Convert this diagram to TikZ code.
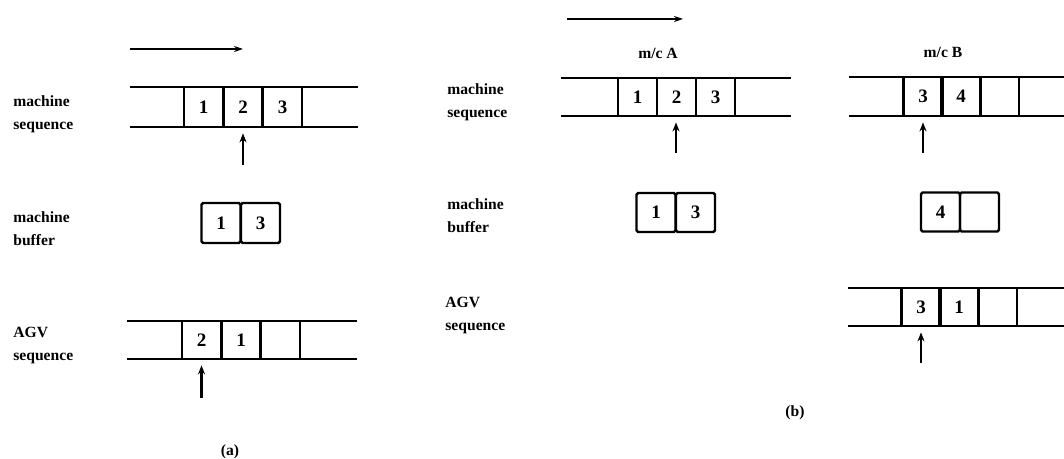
\documentclass[tikz,border=0pt]{standalone}
\usepackage{fontspec}
\setmainfont{Liberation Serif}
\usetikzlibrary{arrows.meta}
\begin{document}
\begin{tikzpicture}[x=0.5pt,y=-0.5pt,
  lbl/.style={font=\fontsize{7.8}{11.5}\selectfont\bfseries, align=left, anchor=west, inner sep=0pt},
  cell/.style={draw, line width=1.4pt, minimum width=19.5pt, minimum height=19.5pt, inner sep=0pt, font=\fontsize{9.5}{10}\selectfont\bfseries},
  bcell/.style={cell, line width=1.2pt, rounded corners=0.8pt},
  band/.style={line width=1pt},
  ptr/.style={line width=1.4pt, -{Stealth[length=4.5pt,width=3.5pt]}, shorten >=2.5pt},
  dirarrow/.style={line width=0.8pt, -{Stealth[length=4.5pt,width=3pt]}},
  captxt/.style={font=\fontsize{7.8}{9}\selectfont\bfseries, inner sep=0pt}
]
\useasboundingbox (0,0) rectangle (1064,459);

% ================= (a) =================
\coordinate (da1) at (130,49); \coordinate (da2) at (243,49);
\draw[dirarrow] (da1) -- (da2);

% machine sequence (a)
\node[lbl] (la1) at (13,114) {machine\\sequence};
\coordinate (am-tl) at (130,87); \coordinate (am-tr) at (358,87);
\coordinate (am-bl) at (130,127); \coordinate (am-br) at (358,127);
\draw[band] (am-tl) -- (am-tr) (am-bl) -- (am-br);
\node[cell, minimum height=20pt] (am1) at (203.5,107) {1};
\node[cell, minimum height=20pt] (am2) at (243,107) {2};
\node[cell, minimum height=20pt] (am3) at (282.5,107) {3};
\coordinate (pam) at (243,165);
\draw[ptr] (pam) -- (pam |- am2.south);

% machine buffer (a)
\node[lbl] (la2) at (13,229) {machine\\buffer};
\node[bcell, minimum height=20pt] (ab1) at (221,223) {1};
\node[bcell, minimum height=20pt] (ab2) at (260.5,223) {3};

% AGV sequence (a)
\node[lbl] (la3) at (13,345) {AGV\\sequence};
\coordinate (aa-tl) at (127,321); \coordinate (aa-tr) at (357,321);
\coordinate (aa-bl) at (127,359); \coordinate (aa-br) at (357,359);
\draw[band] (aa-tl) -- (aa-tr) (aa-bl) -- (aa-br);
\node[cell, minimum height=19pt] (aa1) at (201.5,340) {2};
\node[cell, minimum height=19pt] (aa2) at (241,340) {1};
\node[cell, minimum height=19pt] (aa3) at (280.5,340) {};
\coordinate (paa) at (201.5,398);
\draw[ptr] (paa) -- (paa |- aa1.south);

\node[captxt] (capa) at (230,452) {(a)};

% ================= (b) =================
\coordinate (db1) at (567,19); \coordinate (db2) at (683,19);
\draw[dirarrow] (db1) -- (db2);
\node[captxt] (mcA) at (658,53) {m/c A};
\node[captxt] (mcB) at (943,52) {m/c B};

% machine sequence (b)
\node[lbl] (lb1) at (447,102.5) {machine\\sequence};
\coordinate (bm-tl) at (561,78); \coordinate (bm-tr) at (791,78);
\coordinate (bm-bl) at (561,116); \coordinate (bm-br) at (791,116);
\draw[band] (bm-tl) -- (bm-tr) (bm-bl) -- (bm-br);
\node[cell, minimum height=19pt] (bm1) at (637.5,97) {1};
\node[cell, minimum height=19pt] (bm2) at (676.5,97) {2};
\node[cell, minimum height=19pt] (bm3) at (715.5,97) {3};
\coordinate (pbm) at (676,153);
\draw[ptr] (pbm) -- (pbm |- bm2.south);

\coordinate (cm-tl) at (849,77); \coordinate (cm-tr) at (1064,77);
\coordinate (cm-bl) at (849,116); \coordinate (cm-br) at (1064,116);
\draw[band] (cm-tl) -- (cm-tr) (cm-bl) -- (cm-br);
\node[cell, minimum height=19.5pt] (cm1) at (923,96.5) {3};
\node[cell, minimum height=19.5pt] (cm2) at (961,96.5) {4};
\node[cell, minimum height=19.5pt] (cm3) at (999.5,96.5) {};
\coordinate (pcm) at (923,153);
\draw[ptr] (pcm) -- (pcm |- cm1.south);

% machine buffer (b)
\node[lbl] (lb2) at (447,216) {machine\\buffer};
\node[bcell] (bb1) at (656,212.5) {1};
\node[bcell] (bb2) at (695.5,212.5) {3};
\node[bcell] (cb1) at (940.5,212) {4};
\node[bcell] (cb2) at (979.5,212) {};

% AGV sequence (b)
\node[lbl] (lb3) at (445,315.5) {AGV\\sequence};
\coordinate (ba-tl) at (848,288); \coordinate (ba-tr) at (1064,288);
\coordinate (ba-bl) at (848,326); \coordinate (ba-br) at (1064,326);
\draw[band] (ba-tl) -- (ba-tr) (ba-bl) -- (ba-br);
\node[cell, minimum height=19pt] (ba1) at (921,307) {3};
\node[cell, minimum height=19pt] (ba2) at (959,307) {1};
\node[cell, minimum height=19pt] (ba3) at (997.5,307) {};
\coordinate (pba) at (921,363);
\draw[ptr] (pba) -- (pba |- ba1.south);

\node[captxt] (capb) at (795,413) {(b)};
\end{tikzpicture}
\end{document}
